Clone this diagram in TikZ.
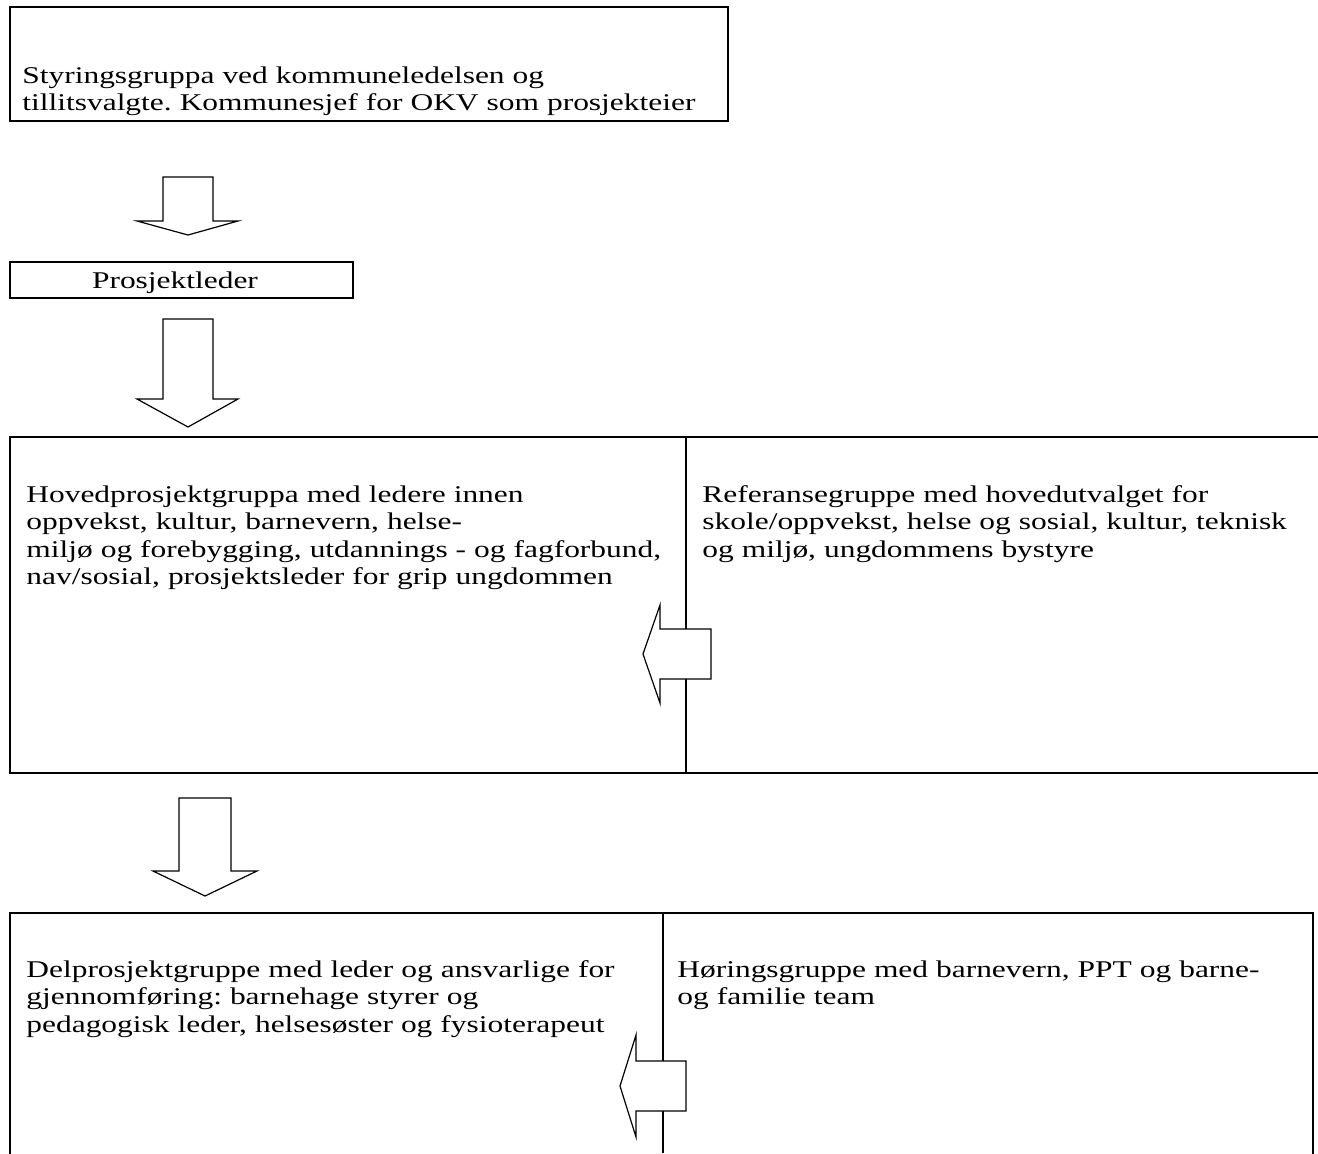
\documentclass[tikz,border=0pt]{standalone}
\usepackage{fontspec}
\setmainfont[FakeStretch=1.31]{Liberation Serif}
\usepackage{tikz}
\frenchspacing

\begin{document}
\begin{tikzpicture}[x=0.5pt, y=-0.5pt,
	boks/.style={draw, line width=1pt},
	skille/.style={draw, line width=0.6pt},
	blokkpil/.style={draw, fill=white, line width=0.6pt, line join=miter},
	tekst/.style={anchor=base west, inner sep=0pt, text width=345pt, align=left, font=\fontsize{12}{13.8}\selectfont}]
		\useasboundingbox (0,0) rectangle (1318,1153);
		
		% bokser
		\draw[boks] (10,7) rectangle (728,121);
		\draw[boks] (10,262) rectangle (353,298);
		\draw[boks] (10,437) rectangle (1340,773);
		\draw[skille] (686,437) -- (686,773);
		\draw[boks] (10,913) rectangle (1313,1180);
		\draw[skille] (663,913) -- (663,1153);
		
		% blokkpiler ned
		\draw[blokkpil] (163,177) -- (213,177) -- (213,221) -- (238,221) -- (188,235) -- (137,221) -- (163,221) -- cycle;
		\draw[blokkpil] (163,319) -- (213,319) -- (213,399) -- (238,399) -- (188,427) -- (137,399) -- (163,399) -- cycle;
		\draw[blokkpil] (179,798) -- (231,798) -- (231,871) -- (257,871) -- (205,896) -- (153,871) -- (179,871) -- cycle;
		
		% blokkpiler mot venstre
		\draw[blokkpil] (711,629) -- (711,679) -- (660,679) -- (660,703) -- (643,654) -- (660,605) -- (660,629) -- cycle;
		\draw[blokkpil] (686,1061) -- (686,1111) -- (636,1111) -- (636,1137) -- (620,1086) -- (636,1035) -- (636,1061) -- cycle;
		
		% tekster
		\node[tekst] (styring) at (22,83) {Styringsgruppa ved kommuneledelsen og\\
			tillitsvalgte. Kommunesjef for OKV som prosjekteier};
		\node[anchor=base, inner sep=0pt, font=\fontsize{12}{13.8}\selectfont] (leder) at (175,288) {Prosjektleder};
		\node[tekst] (hoved) at (26,502) {Hovedprosjektgruppa med ledere innen\\
			oppvekst, kultur, barnevern, helse-\\
			miljø og forebygging, utdannings - og fagforbund,\\
			nav/sosial, prosjektsleder for grip ungdommen};
		\node[tekst] (referanse) at (702,502) {Referansegruppe med hovedutvalget for\\
			skole/oppvekst, helse og sosial, kultur, teknisk\\
			og miljø, ungdommens bystyre};
		\node[tekst] (delprosjekt) at (26,977) {Delprosjektgruppe med leder og ansvarlige for\\
			gjennomføring: barnehage styrer og\\
			pedagogisk leder, helsesøster og fysioterapeut};
		\node[tekst] (horing) at (677,977) {Høringsgruppe med barnevern, PPT og barne-\\
			og familie team};
	\end{tikzpicture}
\end{document}
